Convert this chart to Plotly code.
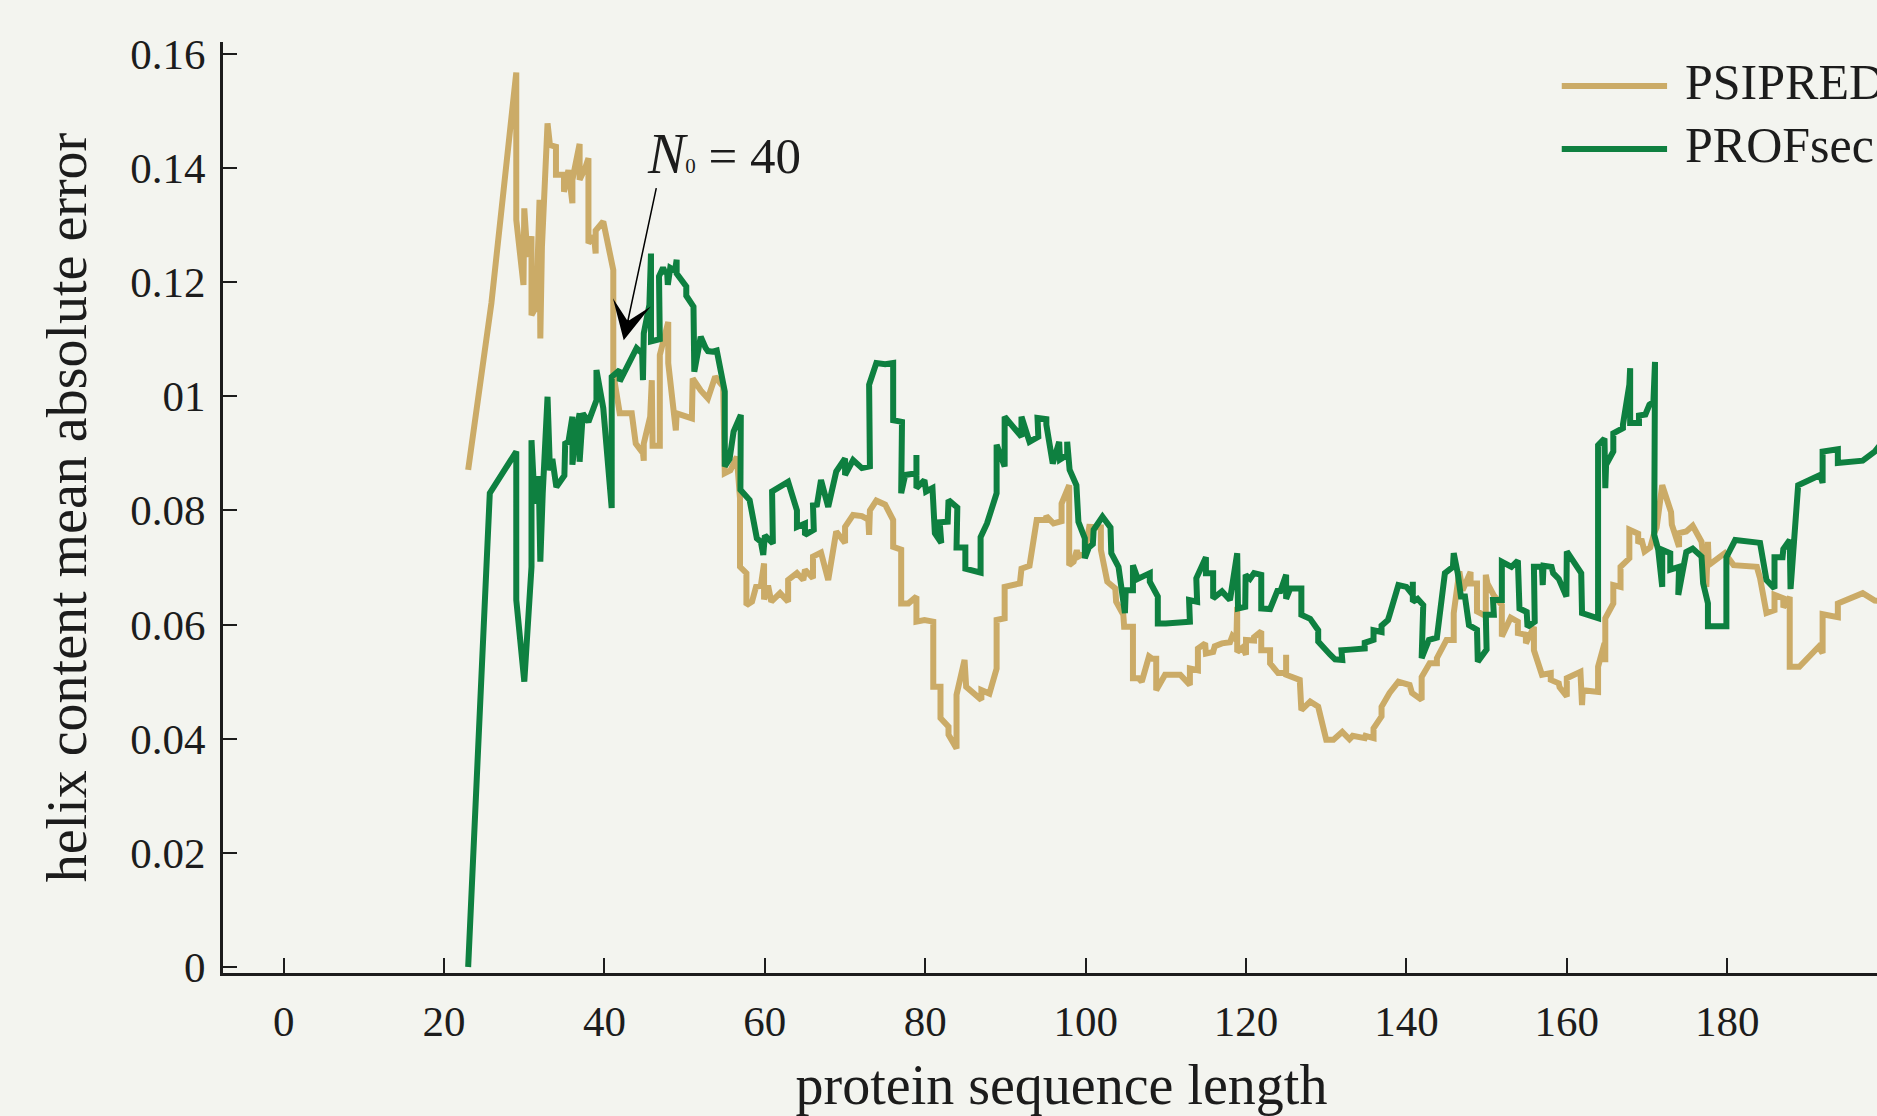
import plotly.graph_objects as go

# ---- data ----
psipred_x = [23.0, 25.9, 29.0, 29.0, 29.9, 30.0, 30.4, 30.9, 30.9, 31.5, 31.9, 32.0, 32.2, 32.9, 33.2, 33.95, 33.95,
             34.95, 34.95, 35.5, 36.0, 36.0, 36.9, 36.9, 37.6, 38.0, 38.0, 38.7, 38.9, 38.9, 39.85, 41.1, 41.1, 41.9,
             43.4, 43.9, 44.8, 44.9, 44.9, 45.7, 45.9, 46.0, 46.9, 46.9, 47.95, 47.95, 48.9, 49.0, 50.9, 51.0, 52.0,
             52.9, 53.8, 54.8, 55.0, 55.7, 56.5, 56.9, 56.9, 57.7, 57.7, 58.4, 58.9, 59.5, 59.9, 59.9, 60.4, 60.8,
             61.9, 62.9, 62.9, 64.0, 64.8, 65.0, 66.0, 66.0, 67.0, 67.9, 68.9, 70.0, 70.0, 71.0, 72.1, 72.9, 73.0,
             73.1, 73.9, 75.0, 76.0, 76.0, 77.0, 77.0, 77.9, 78.9, 78.9, 79.9, 81.0, 81.0, 81.9, 81.9, 82.9, 82.9,
             83.9, 83.9, 84.9, 85.1, 87.0, 87.0, 88.0, 88.9, 88.9, 89.9, 89.9, 91.8, 92.0, 93.0, 93.9, 95.0, 95.1,
             96.0, 97.0, 97.0, 97.95, 97.95, 98.5, 98.9, 99.1, 99.9, 100.45, 100.9, 101.9, 101.9, 102.7, 103.7, 103.8,
             104.7, 104.8, 105.9, 105.9, 106.6, 107.0, 107.9, 108.3, 108.8, 108.8, 109.9, 111.8, 113.0, 113.0, 114.0,
             114.0, 114.9, 115.0, 115.9, 116.1, 117.0, 118.0, 118.3, 118.8, 118.9, 118.9, 119.6, 120.0, 120.0, 121.0,
             121.0, 121.9, 121.9, 123.0, 123.0, 124.0, 125.0, 125.0, 125.0, 126.7, 126.9, 128.0, 129.0, 130.0, 130.9,
             132.0, 132.9, 133.3, 134.8, 134.9, 135.9, 135.9, 136.9, 136.9, 137.9, 139.0, 140.4, 140.7, 141.9, 141.9,
             142.9, 143.8, 143.8, 145.0, 145.9, 145.9, 146.6, 147.0, 148.0, 148.0, 148.8, 148.8, 149.9, 149.9, 150.1,
             150.9, 151.9, 151.9, 153.0, 153.9, 153.9, 154.9, 154.9, 155.9, 155.9, 156.9, 158.0, 158.0, 159.0, 159.1,
             160.0, 160.0, 161.7, 161.9, 162.0, 163.9, 163.9, 164.7, 164.8, 164.8, 165.8, 165.8, 166.7, 166.7, 167.8,
             167.8, 168.9, 168.9, 169.3, 169.7, 170.4, 170.9, 171.2, 171.9, 172.5, 173.0, 173.1, 174.0, 174.0, 174.9,
             175.7, 176.8, 177.4, 177.6, 177.7, 178.5, 179.7, 180.8, 183.7, 184.1, 184.9, 185.9, 185.9, 187.0, 187.0,
             187.8, 187.8, 189.0, 191.4, 191.9, 191.9, 193.8, 193.8, 196.9, 198.4, 200.5]
psipred_y = [0.0871, 0.1163, 0.1567, 0.1309, 0.1195, 0.1329, 0.1244, 0.1280, 0.1142, 0.1157, 0.1344, 0.1101, 0.1262,
             0.1478, 0.1440, 0.1437, 0.1388, 0.1388, 0.1358, 0.1396, 0.1338, 0.1379, 0.1442, 0.1379, 0.1400, 0.1417,
             0.1268, 0.1280, 0.1250, 0.1290, 0.1306, 0.1221, 0.1040, 0.0970, 0.0970, 0.0917, 0.0900, 0.0887, 0.0917,
             0.0964, 0.1028, 0.0913, 0.0913, 0.1072, 0.1130, 0.1058, 0.0940, 0.0970, 0.0961, 0.1031, 0.1010, 0.0996,
             0.1034, 0.1017, 0.0865, 0.0870, 0.0894, 0.0821, 0.0701, 0.0690, 0.0634, 0.0640, 0.0666, 0.0668, 0.0707,
             0.0644, 0.0668, 0.0640, 0.0655, 0.0640, 0.0678, 0.0690, 0.0678, 0.0696, 0.0681, 0.0719, 0.0726, 0.0678,
             0.0763, 0.0743, 0.0771, 0.0792, 0.0790, 0.0784, 0.0757, 0.0800, 0.0817, 0.0810, 0.0783, 0.0736, 0.0731,
             0.0637, 0.0637, 0.0649, 0.0605, 0.0608, 0.0605, 0.0491, 0.0491, 0.0436, 0.0421, 0.0407, 0.0383, 0.0477,
             0.0538, 0.0491, 0.0468, 0.0485, 0.0479, 0.0523, 0.0608, 0.0611, 0.0666, 0.0672, 0.0698, 0.0703, 0.0783,
             0.0783, 0.0790, 0.0777, 0.0781, 0.0812, 0.0844, 0.0704, 0.0710, 0.0730, 0.0719, 0.0725, 0.0771, 0.0770,
             0.0770, 0.0731, 0.0675, 0.0663, 0.0640, 0.0617, 0.0596, 0.0596, 0.0506, 0.0506, 0.0500, 0.0544, 0.0540,
             0.0540, 0.0485, 0.0512, 0.0512, 0.0494, 0.0523, 0.0520, 0.0558, 0.0567, 0.0549, 0.0552, 0.0562, 0.0567,
             0.0569, 0.0580, 0.0573, 0.0631, 0.0552, 0.0560, 0.0547, 0.0573, 0.0572, 0.0578, 0.0588, 0.0555, 0.0555,
             0.0532, 0.0515, 0.0515, 0.0547, 0.0512, 0.0503, 0.0450, 0.0465, 0.0456, 0.0398, 0.0398, 0.0412, 0.0399,
             0.0405, 0.0401, 0.0405, 0.0401, 0.0418, 0.0439, 0.0456, 0.0480, 0.0500, 0.0494, 0.0480, 0.0468, 0.0508,
             0.0532, 0.0532, 0.0541, 0.0573, 0.0573, 0.0620, 0.0693, 0.0660, 0.0692, 0.0672, 0.0672, 0.0623, 0.0615,
             0.0687, 0.0672, 0.0651, 0.0634, 0.0579, 0.0612, 0.0605, 0.0585, 0.0582, 0.0567, 0.0596, 0.0555, 0.0512,
             0.0515, 0.0503, 0.0497, 0.0490, 0.0474, 0.0506, 0.0517, 0.0459, 0.0485, 0.0482, 0.0526, 0.0567, 0.0534,
             0.0611, 0.0637, 0.0669, 0.0666, 0.0701, 0.0716, 0.0766, 0.0759, 0.0742, 0.0750, 0.0728, 0.0735, 0.0760,
             0.0770, 0.0844, 0.0818, 0.0797, 0.0775, 0.0736, 0.0760, 0.0763, 0.0773, 0.0745, 0.0666, 0.0745, 0.0704,
             0.0712, 0.0725, 0.0704, 0.0701, 0.0681, 0.0620, 0.0625, 0.0652, 0.0646, 0.0630, 0.0648, 0.0526, 0.0526,
             0.0561, 0.0550, 0.0618, 0.0613, 0.0637, 0.0655, 0.0642, 0.0640]

profsec_x = [23.0, 25.7, 29.0, 29.0, 30.0, 30.9, 30.9, 31.3, 31.8, 32.0, 32.3, 32.9, 33.2, 33.5, 34.0, 35.0, 35.1, 35.5,
             36.0, 36.0, 36.5, 36.9, 36.9, 37.3, 38.0, 38.5, 39.0, 39.0, 39.85, 40.9, 40.9, 41.9, 41.9, 44.0, 44.7,
             44.8, 44.9, 45.6, 45.8, 45.8, 46.9, 46.8, 47.3, 47.6, 47.8, 47.9, 48.2, 48.8, 49.0, 49.0, 50.2, 50.2,
             51.1, 51.2, 52.0, 52.6, 52.9, 53.5, 54.0, 55.0, 55.0, 55.6, 56.1, 57.0, 56.95, 58.1, 58.8, 59.0, 59.5,
             59.8, 60.0, 61.0, 60.9, 62.9, 64.0, 64.0, 65.0, 65.0, 66.1, 66.0, 66.5, 67.0, 67.9, 68.9, 70.0, 70.0,
             71.0, 72.1, 73.1, 73.0, 73.9, 75.0, 76.0, 76.0, 77.1, 77.0, 77.5, 78.9, 78.9, 78.9, 79.9, 80.1, 80.9,
             81.2, 82.0, 81.8, 82.8, 82.9, 84.0, 83.9, 85.0, 85.0, 86.9, 86.9, 87.7, 88.3, 88.9, 88.9, 89.9, 89.9,
             92.0, 92.0, 93.0, 94.1, 94.0, 95.1, 95.1, 95.9, 96.7, 96.8, 97.7, 97.7, 98.0, 98.85, 99.1, 99.9, 99.9,
             100.4, 100.9, 101.0, 102.1, 103.1, 103.2, 104.1, 104.9, 105.0, 105.9, 105.9, 106.5, 108.0, 108.0, 109.0,
             109.0, 110.0, 113.0, 112.9, 113.9, 113.8, 115.0, 115.0, 115.9, 115.9, 117.0, 118.0, 118.9, 119.0, 119.9,
             119.95, 120.5, 121.0, 121.9, 121.9, 123.0, 124.0, 124.2, 125.0, 125.0, 125.5, 126.9, 126.9, 128.0, 129.0,
             129.0, 130.5, 131.1, 132.0, 131.9, 133.0, 134.8, 134.8, 135.9, 135.9, 136.9, 136.9, 137.7, 137.9, 139.0,
             140.0, 140.8, 140.8, 140.8, 141.4, 142.1, 141.9, 142.8, 143.8, 144.8, 145.8, 145.9, 146.4, 146.8, 147.3,
             147.8, 148.8, 148.9, 150.0, 149.9, 150.9, 150.8, 151.9, 151.9, 153.1, 153.9, 154.1, 155.0, 155.1, 156.0,
             155.9, 156.9, 157.0, 157.1, 158.1, 158.3, 159.0, 159.95, 160.0, 161.8, 161.9, 163.9, 163.9, 164.7, 164.8,
             164.9, 165.8, 165.8, 167.0, 167.0, 167.8, 167.9, 167.9, 169.0, 169.0, 169.8, 170.3, 170.8, 171.0, 170.9,
             171.4, 171.9, 171.9, 172.9, 172.9, 174.0, 173.9, 174.9, 175.7, 176.8, 177.0, 177.6, 177.6, 179.9, 179.9,
             181.0, 184.1, 184.9, 185.9, 185.9, 186.9, 187.0, 187.8, 187.9, 188.85, 191.6, 191.9, 191.9, 193.8, 193.8,
             196.9, 198.4, 200.5]
profsec_y = [0.0000, 0.0830, 0.0903, 0.0643, 0.0500, 0.0701, 0.0923, 0.0812, 0.0860, 0.0710, 0.0830, 0.0999, 0.0870,
             0.0890, 0.0841, 0.0861, 0.0917, 0.0920, 0.0964, 0.0880, 0.0940, 0.0970, 0.0885, 0.0970, 0.0955, 0.0975,
             0.0993, 0.1046, 0.0979, 0.0804, 0.1034, 0.1046, 0.1026, 0.1084, 0.1075, 0.1028, 0.1110, 0.1160, 0.1250,
             0.1096, 0.1100, 0.1210, 0.1225, 0.1215, 0.1221, 0.1195, 0.1225, 0.1220, 0.1239, 0.1215, 0.1192, 0.1176,
             0.1157, 0.1043, 0.1104, 0.1085, 0.1079, 0.1078, 0.1080, 0.1008, 0.0877, 0.0890, 0.0938, 0.0967, 0.0836,
             0.0818, 0.0760, 0.0751, 0.0745, 0.0722, 0.0756, 0.0742, 0.0833, 0.0850, 0.0800, 0.0771, 0.0777, 0.0757,
             0.0766, 0.0809, 0.0810, 0.0853, 0.0806, 0.0868, 0.0891, 0.0862, 0.0888, 0.0874, 0.0877, 0.1020, 0.1058,
             0.1056, 0.1058, 0.0958, 0.0955, 0.0830, 0.0862, 0.0865, 0.0897, 0.0839, 0.0853, 0.0833, 0.0839, 0.0760,
             0.0743, 0.0779, 0.0780, 0.0818, 0.0805, 0.0735, 0.0735, 0.0698, 0.0691, 0.0753, 0.0777, 0.0805, 0.0830,
             0.0915, 0.0877, 0.0964, 0.0929, 0.0964, 0.0920, 0.0929, 0.0962, 0.0960, 0.0950, 0.0882, 0.0920, 0.0889,
             0.0897, 0.0920, 0.0871, 0.0844, 0.0780, 0.0751, 0.0716, 0.0735, 0.0741, 0.0766, 0.0789, 0.0770, 0.0725,
             0.0701, 0.0620, 0.0660, 0.0660, 0.0704, 0.0680, 0.0690, 0.0675, 0.0649, 0.0602, 0.0602, 0.0605, 0.0643,
             0.0640, 0.0681, 0.0718, 0.0690, 0.0690, 0.0646, 0.0658, 0.0643, 0.0725, 0.0628, 0.0631, 0.0687, 0.0680,
             0.0690, 0.0687, 0.0628, 0.0627, 0.0662, 0.0655, 0.0687, 0.0645, 0.0663, 0.0663, 0.0617, 0.0610, 0.0590,
             0.0570, 0.0547, 0.0539, 0.0538, 0.0555, 0.0556, 0.0558, 0.0568, 0.0573, 0.0590, 0.0587, 0.0598, 0.0608,
             0.0617, 0.0669, 0.0666, 0.0652, 0.0675, 0.0640, 0.0645, 0.0634, 0.0541, 0.0573, 0.0577, 0.0690, 0.0701,
             0.0725, 0.0690, 0.0649, 0.0649, 0.0599, 0.0591, 0.0535, 0.0556, 0.0617, 0.0617, 0.0643, 0.0643, 0.0710,
             0.0701, 0.0712, 0.0628, 0.0622, 0.0596, 0.0605, 0.0701, 0.0701, 0.0669, 0.0703, 0.0701, 0.0690, 0.0680,
             0.0649, 0.0728, 0.0690, 0.0620, 0.0611, 0.0914, 0.0926, 0.0839, 0.0880, 0.0903, 0.0935, 0.0944, 0.0950,
             0.1020, 0.1049, 0.0953, 0.0953, 0.0966, 0.0968, 0.0985, 0.0990, 0.1060, 0.0757, 0.0731, 0.0666, 0.0731,
             0.0725, 0.0696, 0.0701, 0.0652, 0.0727, 0.0733, 0.0719, 0.0672, 0.0637, 0.0597, 0.0597, 0.0718, 0.0748,
             0.0743, 0.0678, 0.0663, 0.0718, 0.0718, 0.0732, 0.0748, 0.0662, 0.0844, 0.0862, 0.0848, 0.0903, 0.0907,
             0.0883, 0.0887, 0.0903, 0.0940]

x_ticks = [0, 20, 40, 60, 80, 100, 120, 140, 160, 180, 200]
x_ticktext = ["0", "20", "40", "60", "80", "100", "120", "140", "160", "180", "200"]
y_ticks = [0, 0.02, 0.04, 0.06, 0.08, 0.10, 0.12, 0.14, 0.16]
y_ticktext = ["0", "0.02", "0.04", "0.06", "0.08", "01", "0.12", "0.14", "0.16"]
series_names = ["PSIPRED", "PROFsec"]

# ---- styling ----
TAN = "#cbab67"
GREEN = "#0e8040"
BG = "#f3f4ef"
INK = "#1c1c1c"
FONT = "Liberation Serif"
LW = 6
FIG_W = 1900          # the original figure runs slightly past the right edge of the window

fig = go.Figure()
fig.add_trace(go.Scatter(x=psipred_x, y=psipred_y, mode="lines", name=series_names[0],
                         line=dict(color=TAN, width=LW), showlegend=False))
fig.add_trace(go.Scatter(x=profsec_x, y=profsec_y, mode="lines", name=series_names[1],
                         line=dict(color=GREEN, width=LW), showlegend=False))

# custom legend (long line samples like the reference)
for i, (name, col) in enumerate(zip(series_names, [TAN, GREEN])):
    ly = [0.9527, 0.885][i]
    fig.add_shape(type="line", xref="paper", yref="paper", x0=0.7983, x1=0.8611, y0=ly, y1=ly,
                  line=dict(color=col, width=LW))
    fig.add_annotation(xref="paper", yref="paper", x=0.8704, y=ly + 0.004, text=name, showarrow=False,
                       xanchor="left", yanchor="middle", font=dict(family=FONT, size=50, color=INK))

# N0 = 40 annotation
fig.add_annotation(x=45.0, y=0.1425, xref="x", yref="y",
                   text="<i><span style='font-size:56px'>N</span></i><span style='font-size:21px'>0</span> = 40",
                   showarrow=False, xanchor="left", yanchor="middle",
                   font=dict(family=FONT, size=51, color=INK))
fig.add_annotation(x=42.4, y=0.1098, ax=46.5, ay=0.1367, xref="x", yref="y", axref="x", ayref="y",
                   text="", showarrow=True, arrowhead=3, arrowsize=4.3, arrowwidth=1.5, arrowcolor="#000000")

fig.update_layout(
    width=FIG_W, height=1116,
    paper_bgcolor=BG, plot_bgcolor=BG,
    margin=dict(l=223, r=0, t=42, b=143),
    font=dict(family=FONT, color=INK, size=43),
)
fig.update_xaxes(range=[-7.57, 201.55], tickvals=x_ticks, ticktext=x_ticktext, ticks="inside", ticklen=15,
                 tickwidth=1.5, tickcolor=INK, showline=True, linecolor=INK, linewidth=3, showgrid=False,
                 zeroline=False, tickfont=dict(family=FONT, size=43, color=INK), ticklabelstandoff=8,
                 title=dict(text="protein sequence length", font=dict(family=FONT, size=56, color=INK), standoff=24))
fig.update_yaxes(range=[-0.00105, 0.16205], tickvals=y_ticks, ticktext=y_ticktext, ticks="inside", ticklen=14,
                 tickwidth=1.5, tickcolor=INK, showline=True, linecolor=INK, linewidth=3, showgrid=False,
                 zeroline=False, tickfont=dict(family=FONT, size=43, color=INK), ticklabelstandoff=6,
                 title=dict(text="helix content mean absolute error", font=dict(family=FONT, size=56, color=INK),
                            standoff=26))

fig.write_html("out.html", config={"displayModeBar": False},
               post_script="document.body.style.margin='0';document.body.style.overflow='hidden';")
